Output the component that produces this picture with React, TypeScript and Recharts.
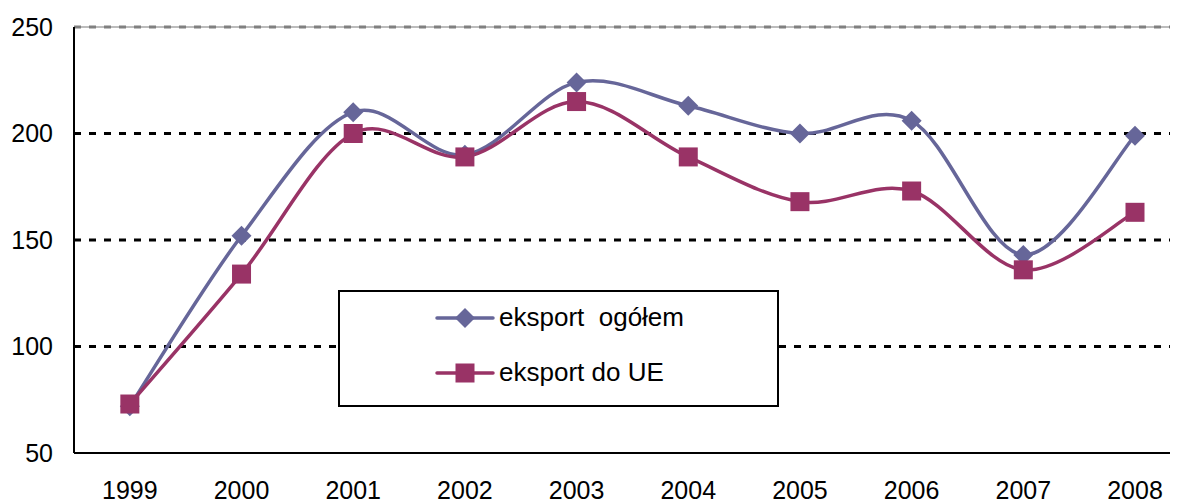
import { Legend, Line, LineChart, ReferenceLine, XAxis, YAxis } from "recharts";

const years = [1999, 2000, 2001, 2002, 2003, 2004, 2005, 2006, 2007, 2008];
const eksportOgolem = [72, 152, 210, 190, 224, 213, 200, 206, 143, 199];
const eksportDoUE = [73, 134, 200, 189, 215, 189, 168, 173, 136, 163];
const yTicks = [50, 100, 150, 200, 250];
const gridValues = [100, 150, 200];

const data = years.map((year, i) => ({
  year,
  ogolem: eksportOgolem[i],
  ue: eksportDoUE[i],
}));

const BLUE = "#666699";
const RED = "#993366";
const FONT = "'Liberation Sans', Arial, sans-serif";

// excel-style smoothed line (catmull-rom as bezier)
const excelCurve = (context: any) => {
  let pts: [number, number][] = [];
  return {
    areaStart() {},
    areaEnd() {},
    lineStart() {
      pts = [];
    },
    point(x: number, y: number) {
      pts.push([+x, +y]);
    },
    lineEnd() {
      const n = pts.length;
      if (!n) return;
      context.moveTo(pts[0][0], pts[0][1]);
      for (let i = 0; i < n - 1; i++) {
        const p0 = pts[Math.max(i - 1, 0)];
        const p1 = pts[i];
        const p2 = pts[i + 1];
        const p3 = pts[Math.min(i + 2, n - 1)];
        context.bezierCurveTo(
          p1[0] + (p2[0] - p0[0]) / 6,
          p1[1] + (p2[1] - p0[1]) / 6,
          p2[0] - (p3[0] - p1[0]) / 6,
          p2[1] - (p3[1] - p1[1]) / 6,
          p2[0],
          p2[1]
        );
      }
    },
  };
};

const diamond = (cx: number, cy: number, key?: any) => (
  <polygon
    key={key}
    points={`${cx},${cy - 10} ${cx + 10},${cy} ${cx},${cy + 10} ${cx - 10},${cy}`}
    fill={BLUE}
  />
);

const square = (cx: number, cy: number, key?: any) => (
  <rect key={key} x={cx - 9.5} y={cy - 9.5} width={19} height={19} fill={RED} />
);

const LegendBox = () => (
  <div
    style={{
      position: "relative",
      width: 441,
      height: 117,
      boxSizing: "border-box",
      border: "2px solid #000",
      background: "#fff",
      fontFamily: FONT,
      fontSize: 26,
      color: "#000",
    }}
  >
    {[
      { label: "eksport\u00a0\u00a0ogółem", color: BLUE, mark: diamond, top: 28 },
      { label: "eksport do UE", color: RED, mark: square, top: 83 },
    ].map((item) => (
      <div key={item.label}>
        <svg
          width={62}
          height={24}
          style={{ position: "absolute", left: 94, top: item.top - 14 }}
        >
          <line x1={3} y1={12} x2={59} y2={12} stroke={item.color} strokeWidth={3.5} strokeLinecap="round" />
          {item.mark(31, 12)}
        </svg>
        <span
          style={{
            position: "absolute",
            left: 159,
            top: item.top - 18,
            lineHeight: "30px",
            whiteSpace: "pre",
          }}
        >
          {item.label}
        </span>
      </div>
    ))}
  </div>
);

const tickStyle = { fill: "#000", fontSize: 25, fontFamily: FONT };

export default function App() {
  return (
    <div style={{ width: 1170, height: 495, overflow: "hidden" }}>
      <LineChart
        width={1170}
        height={495}
        data={data}
        margin={{ top: 19, right: 0, bottom: 0, left: 0 }}
      >
        <XAxis
          dataKey="year"
          type="number"
          domain={[1998.5, 2008.385]}
          ticks={years}
          allowDataOverflow
          height={50}
          tickLine={false}
          tickSize={0}
          tickMargin={28}
          axisLine={{ stroke: "#000", strokeWidth: 2 }}
          tick={tickStyle}
          interval={0}
        />
        <YAxis
          domain={[50, 250]}
          ticks={yTicks}
          width={66}
          tickLine={false}
          tickSize={0}
          tickMargin={21}
          axisLine={{ stroke: "#000", strokeWidth: 2 }}
          tick={tickStyle}
          interval={0}
        />
        {gridValues.map((v) => (
          <ReferenceLine key={v} y={v} stroke="#000" strokeWidth={3} strokeDasharray="7 8" />
        ))}
        <ReferenceLine y={250} stroke="#a6a6a6" strokeWidth={1.5} />
        <ReferenceLine y={250} stroke="#808080" strokeWidth={3} strokeDasharray="7 8" />
        <Legend
          layout="vertical"
          align="center"
          verticalAlign="middle"
          content={() => <LegendBox />}
          wrapperStyle={{ left: 330, top: 282, width: 441, height: 117 }}
        />
        <Line
          dataKey="ogolem"
          type={excelCurve as any}
          stroke={BLUE}
          strokeWidth={3.5}
          dot={(p: any) => diamond(p.cx, p.cy, p.key ?? `d${p.index}`)}
          activeDot={false}
          isAnimationActive={false}
        />
        <Line
          dataKey="ue"
          type={excelCurve as any}
          stroke={RED}
          strokeWidth={3.5}
          dot={(p: any) => square(p.cx, p.cy, p.key ?? `s${p.index}`)}
          activeDot={false}
          isAnimationActive={false}
        />
      </LineChart>
    </div>
  );
}
